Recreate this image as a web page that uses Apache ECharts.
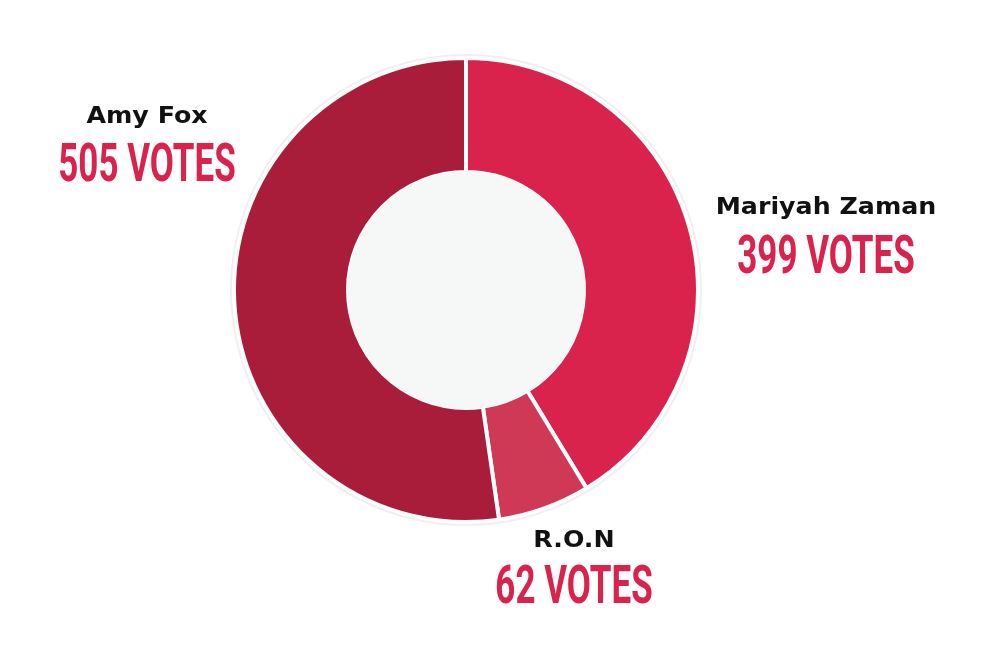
<!DOCTYPE html>
<html>
<head>
<meta charset="utf-8">
<script src="https://cdn.jsdelivr.net/npm/echarts@6/dist/echarts.min.js"></script>
<style>html,body{margin:0;padding:0;background:#fff;}#c{width:1000px;height:647px;}</style>
</head>
<body>
<div id="c"></div>
<script>
const candidates = ['Mariyah Zaman', 'R.O.N', 'Amy Fox'];
const votes = [399, 62, 505];
const sliceColors = ['#d9234d', '#cf3955', '#a91d3a'];
const unitLabel = 'VOTES';

// label anchor positions (layout only)
const labelPos = [
  { x: 826, nameY: 208, votesY: 260 },
  { x: 574, nameY: 541, votesY: 590 },
  { x: 147, nameY: 117, votesY: 168 }
];

const chart = echarts.init(document.getElementById('c'), null, { renderer: 'canvas' });

const graphics = [];
candidates.forEach((name, i) => {
  const p = labelPos[i];
  graphics.push({
    type: 'text', x: p.x, y: p.nameY, scaleX: 1.1, z: 10,
    style: { text: name, fill: '#111', font: 'bold 23px "DejaVu Sans"', align: 'center', verticalAlign: 'middle' }
  });
  graphics.push({
    type: 'text', x: p.x, y: p.votesY, scaleX: 0.66, z: 10,
    style: { text: votes[i] + ' ' + unitLabel, fill: '#d9234d', font: 'bold 53px Roboto', align: 'center', verticalAlign: 'middle' }
  });
});

chart.setOption({
  backgroundColor: '#ffffff',
  animation: false,
  graphic: graphics,
  series: [
    {
      type: 'pie', center: [466, 290], radius: [0, 236], silent: true, z: 1,
      label: { show: false }, labelLine: { show: false },
      itemStyle: { color: '#eef1f0' }, data: [1]
    },
    {
      type: 'pie', center: [466, 290], radius: [118, 232], startAngle: 90, clockwise: true, z: 2,
      label: { show: false }, labelLine: { show: false },
      itemStyle: { borderColor: '#ffffff', borderWidth: 4 },
      data: candidates.map((n, i) => ({ name: n, value: votes[i], itemStyle: { color: sliceColors[i] } }))
    },
    {
      type: 'pie', center: [466, 290], radius: [0, 119], silent: true, z: 3,
      label: { show: false }, labelLine: { show: false },
      itemStyle: { color: '#f6f8f7' }, data: [1]
    }
  ]
});
</script>
</body>
</html>
